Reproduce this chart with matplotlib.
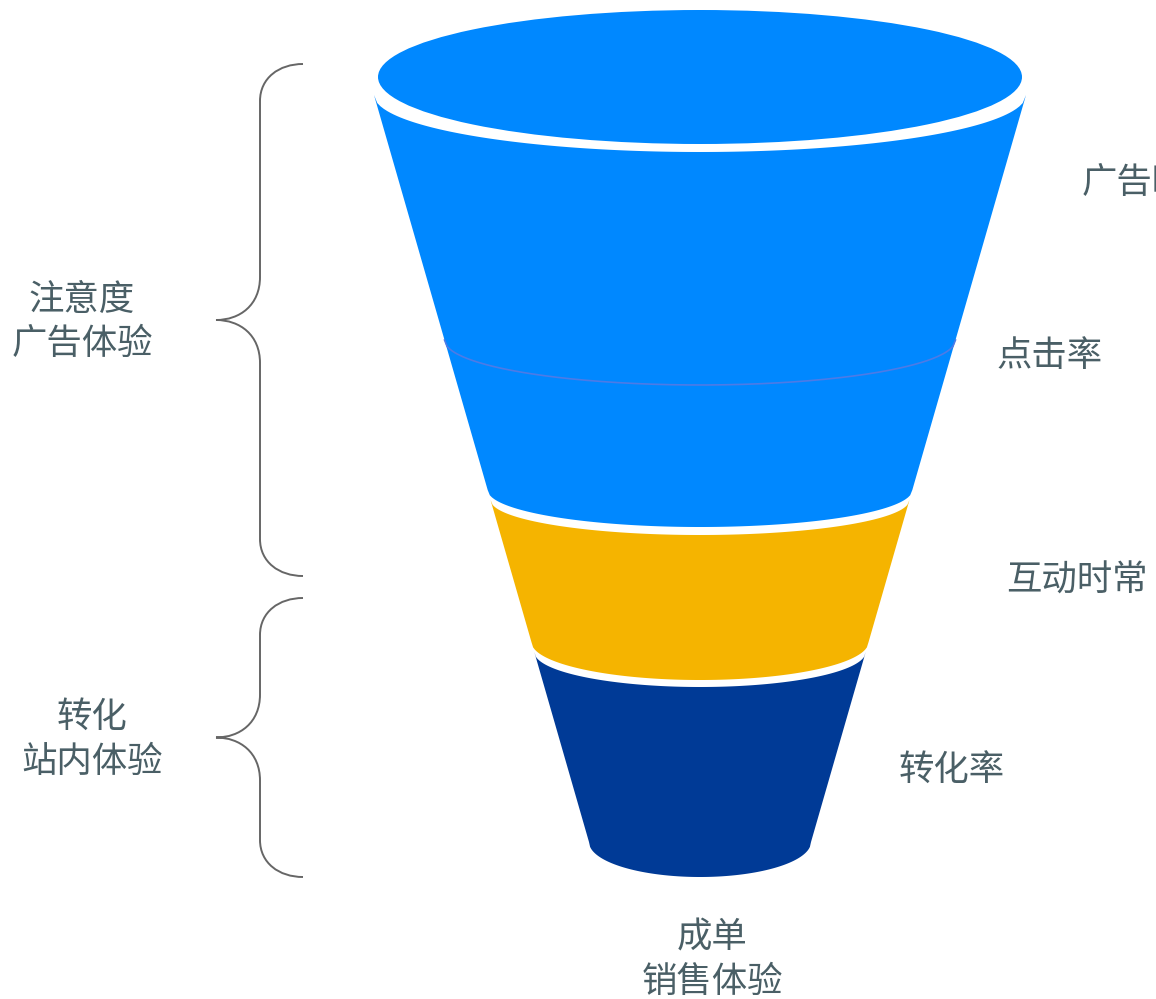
import numpy as np
import matplotlib
matplotlib.use("Agg")
import matplotlib.pyplot as plt
from matplotlib.patches import Ellipse, Polygon, PathPatch
from matplotlib.path import Path

plt.rcParams['font.family'] = ['Noto Sans CJK SC', 'DejaVu Sans']

# funnel stages (pixel-like units of the drawing, y grows downwards)
seg_top = [95, 500, 652]
seg_bottom = [490, 642, 842]
seg_top_depth = [57, 35, 35]
seg_bottom_depth = [37, 38, 35]
seg_colors = ['#0088ff', '#f5b400', '#003a96']

right_labels = ['广告曝光', '点击率', '互动时常', '转化率']
right_label_x = [1082, 997, 1006, 899]
right_label_y = [183, 356, 581, 771]
right_label_italic = [True, False, True, False]

group_labels = ['注意度\n广告体验', '转化\n站内体验']
group_spans = [(64, 576), (598, 877)]
bottom_label = '成单\n销售体验'

text_color = '#4a5f66'
fsize = 25.5
cx = 700


def half_width(y):
    return 326 - 0.2878 * (y - 95)


def arc(y, depth, n=200):
    hw = half_width(y)
    xs = np.linspace(cx - hw, cx + hw, n)
    ys = y + depth * np.sqrt(np.clip(1 - ((xs - cx) / hw) ** 2, 0, 1))
    return xs, ys


fig = plt.figure(figsize=(11.56, 9.99), dpi=100)
ax = fig.add_axes([0, 0, 1, 1])
ax.set_xlim(0, 1156)
ax.set_ylim(999, 0)
ax.axis('off')

# top rim of the funnel
ax.add_patch(Ellipse((cx, 77), 644, 134, color=seg_colors[0], lw=0))

for top, bot, dt, db, col in zip(seg_top, seg_bottom, seg_top_depth,
                                 seg_bottom_depth, seg_colors):
    xt, yt = arc(top, dt)
    xb, yb = arc(bot, db)
    pts = np.vstack([np.column_stack([xt, yt]),
                     np.column_stack([xb[::-1], yb[::-1]])])
    ax.add_patch(Polygon(pts, closed=True, facecolor=col, edgecolor='none'))

# faint divider in the blue part
xl, yl = arc(340, 45)
ax.plot(xl, yl, color='#4d7be6', lw=1.2)

# right side labels (the first one runs off the edge, as in the original)
for lab, x, y, it in zip(right_labels, right_label_x, right_label_y,
                         right_label_italic):
    ax.text(x, y, lab, fontsize=fsize, color=text_color, va='center',
            ha='left', style='italic' if it else 'normal')


def brace(top, bottom, x_end=303, x_mid=260, x_tip=216, r=37):
    tip = (top + bottom) / 2
    verts = [(x_end, top), (x_mid + 19, top), (x_mid, top + 14), (x_mid, top + r),
             (x_mid, tip - 43),
             (x_mid, tip - 15), (x_tip + 24, tip), (x_tip, tip),
             (x_tip + 24, tip), (x_mid, tip + 15), (x_mid, tip + 43),
             (x_mid, bottom - r),
             (x_mid, bottom - 14), (x_mid + 19, bottom), (x_end, bottom)]
    codes = [Path.MOVETO, Path.CURVE4, Path.CURVE4, Path.CURVE4,
             Path.LINETO,
             Path.CURVE4, Path.CURVE4, Path.CURVE4,
             Path.CURVE4, Path.CURVE4, Path.CURVE4,
             Path.LINETO,
             Path.CURVE4, Path.CURVE4, Path.CURVE4]
    ax.add_patch(PathPatch(Path(verts, codes), facecolor='none',
                           edgecolor='#666666', lw=1.4))
    return tip


label_x = [82, 92]
for lab, (t, b), lx in zip(group_labels, group_spans, label_x):
    tip = brace(t, b)
    ax.text(lx, tip + 2, lab, fontsize=fsize, color=text_color, ha='center',
            va='center', linespacing=1.3)

ax.text(cx + 12, 960, bottom_label, fontsize=fsize, color=text_color,
        ha='center', va='center', linespacing=1.3)

fig.savefig('out.png', dpi=100)
